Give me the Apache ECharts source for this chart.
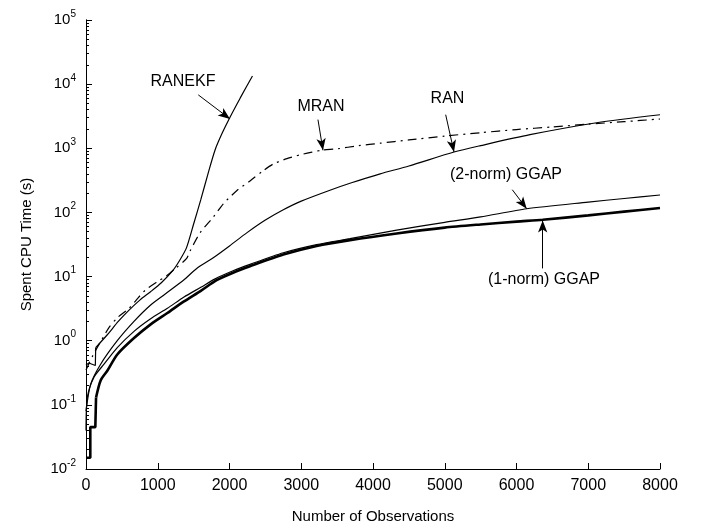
<!DOCTYPE html>
<html><head><meta charset="utf-8">
<script src="https://cdn.jsdelivr.net/npm/echarts@6/dist/echarts.min.js"></script>
<style>html,body{margin:0;padding:0;background:#fff}#c{width:701px;height:529px}</style>
</head><body><div id="c"></div>
<script>
// ---- data ----
const ranekfX = [0, 40, 130, 135, 300, 450, 600, 750, 900, 1050, 1200, 1300, 1400, 1500, 1600, 1700, 1800, 1900, 2000, 2150, 2320];
const ranekfY = [0.42, 0.45, 0.41, 0.78, 1.25, 2.0, 3.0, 4.3, 5.8, 8.0, 12, 17.5, 28, 66, 158, 400, 950, 1740, 2950, 6100, 13400];

const mranX = [0, 100, 200, 320, 440, 600, 700, 830, 1000, 1110, 1250, 1400, 1450, 1590, 1775, 1914, 2100, 2286, 2450, 2611, 2800, 2983, 3150, 3300, 3500, 3800, 4100, 4500, 5000, 5500, 6000, 6500, 7000, 7500, 8000];
const mranY = [0.35, 0.6, 0.95, 1.6, 2.3, 3.2, 4.3, 6.2, 8.4, 10, 13.5, 19, 25, 48, 85, 136, 218, 310, 430, 570, 690, 790, 870, 940, 980, 1100, 1200, 1350, 1550, 1750, 1960, 2150, 2380, 2600, 2860];

const ranX = [0, 65, 204, 436, 669, 901, 1100, 1366, 1543, 1784, 2000, 2240, 2500, 2750, 3000, 3400, 3700, 4100, 4500, 5129, 5500, 6188, 7117, 8000];
const ranY = [0.08, 0.21, 0.43, 1.0, 2.0, 3.6, 5.3, 8.9, 13.4, 20, 30, 48, 76, 110, 150, 222, 290, 400, 530, 874, 1100, 1630, 2500, 3330];

const ggap2X = [0, 18, 111, 251, 436, 669, 901, 1134, 1366, 1600, 1800, 2050, 2286, 2750, 3215, 3679, 4330, 5000, 5500, 6141, 7000, 7500, 8000];
const ggap2Y = [0.04, 0.13, 0.27, 0.43, 0.78, 1.4, 2.2, 3.2, 4.8, 6.8, 9.2, 12.3, 15.5, 23.5, 31.5, 39, 53, 70, 85, 114, 145, 165, 187];

const ggap1X = [0, 60, 60, 130, 140, 204, 297, 436, 669, 901, 1134, 1366, 1600, 1821, 2050, 2286, 2750, 3215, 3679, 4330, 5000, 5500, 6000, 6365, 7000, 7500, 8000];
const ggap1Y = [0.015, 0.015, 0.045, 0.045, 0.13, 0.24, 0.34, 0.61, 1.1, 1.8, 2.7, 4.1, 6.0, 8.8, 11.5, 14.5, 22, 30, 37, 47, 58, 65, 72, 77, 90, 103, 117];

const xTicks = [0, 1000, 2000, 3000, 4000, 5000, 6000, 7000, 8000];
const yTickExponents = [-2, -1, 0, 1, 2, 3, 4, 5];

// annotations (data coordinates)
const annTexts = ['RANEKF', 'MRAN', 'RAN', '(2-norm) GGAP', '(1-norm) GGAP'];
const annLabelPos = [[1352, 10960], [3275, 4490], [5038, 5900], [5854, 388], [6383, 8.93]];
const annArrowFrom = [[1565, 6800], [3233, 2800], [5013, 3340], [5941, 226], [6365, 13.4]];
const annArrowTo = [[2007, 2870], [3303, 929], [5129, 874], [6142, 114], [6365, 75]];

// ---- build chart ----
const FONT = 'Liberation Sans, Arial, sans-serif';
const pairs = (xs, ys, a, b) => xs.slice(a, b).map((x, i) => [x, ys.slice(a, b)[i]]);
const yDecades = yTickExponents.map(e => Math.pow(10, e));
const yMinor = [];
for (let i = 0; i < yTickExponents.length - 1; i++) {
  for (let m = 2; m <= 9; m++) yMinor.push(m * Math.pow(10, yTickExponents[i]));
}

const line = (name, data, width, type, smooth) => ({
  name, type: 'line', data, showSymbol: false, symbol: 'none',
  silent: true, animation: false, smooth: smooth ? 0.25 : false,
  lineStyle: { color: '#000', width, type: type || 'solid' },
  z: 3
});

// step parts drawn straight, the rest smoothed
const series = [
  line('RANEKF', pairs(ranekfX, ranekfY, 0, 4), 1.2, 'solid', false),
  line('RANEKF', pairs(ranekfX, ranekfY, 3), 1.2, 'solid', true),
  line('MRAN', pairs(mranX, mranY, 0), 1.2, [9, 5, 2, 5], true),
  line('RAN', pairs(ranX, ranY, 0), 1.2, 'solid', true),
  line('(2-norm) GGAP', pairs(ggap2X, ggap2Y, 0), 1.2, 'solid', true),
  line('(1-norm) GGAP', pairs(ggap1X, ggap1Y, 0, 5), 2.6, 'solid', false),
  line('(1-norm) GGAP', pairs(ggap1X, ggap1Y, 4), 2.6, 'solid', true)
];

// annotation carrier series
series.push({
  type: 'line', data: [], silent: true, animation: false, symbol: 'none',
  markLine: {
    silent: true, animation: false,
    symbol: ['none', 'arrow'], symbolSize: [7, 12],
    lineStyle: { color: '#000', width: 1, type: 'solid' },
    label: { show: false },
    emphasis: { disabled: true },
    data: annArrowFrom.map((f, i) => [{ coord: f }, { coord: annArrowTo[i] }])
  },
  markPoint: {
    silent: true, animation: false,
    symbol: 'circle', symbolSize: 1,
    itemStyle: { color: 'rgba(0,0,0,0)' },
    label: { show: true, position: 'inside', color: '#000', fontSize: 16, fontFamily: FONT, formatter: p => p.name },
    emphasis: { disabled: true },
    data: annTexts.map((t, i) => ({ name: t, coord: annLabelPos[i] }))
  }
});

const chart = echarts.init(document.getElementById('c'), null, { renderer: 'canvas' });
chart.setOption({
  animation: false,
  backgroundColor: '#fff',
  grid: { left: 86, right: 41, top: 20, bottom: 56 },
  xAxis: {
    type: 'value', min: 0, max: 8000, interval: 1000,
    axisLine: { show: true, lineStyle: { color: '#000', width: 1 } },
    axisTick: { show: true, inside: true, length: 6, lineStyle: { color: '#000' } },
    splitLine: { show: false },
    axisLabel: { color: '#000', fontSize: 16, fontFamily: FONT, margin: 9,
      customValues: xTicks, formatter: v => String(v) },
    name: 'Number of Observations', nameLocation: 'middle', nameGap: 40,
    nameTextStyle: { color: '#000', fontSize: 15, fontFamily: FONT }
  },
  yAxis: [{
    type: 'log', logBase: 10, min: 0.01, max: 100000,
    axisLine: { show: true, lineStyle: { color: '#000', width: 1 } },
    axisTick: { show: true, inside: true, length: 6, customValues: yDecades, lineStyle: { color: '#000' } },
    splitLine: { show: false },
    minorTick: { show: false },
    axisLabel: {
      color: '#000', margin: 10, customValues: yDecades,
      formatter: v => '{b|10}{s|' + Math.round(Math.log10(v)) + '}',
      rich: {
        b: { fontSize: 15, fontFamily: FONT, color: '#000', lineHeight: 22, verticalAlign: 'middle' },
        s: { fontSize: 10, fontFamily: FONT, color: '#000', lineHeight: 10, verticalAlign: 'top' }
      }
    },
    name: 'Spent CPU Time (s)', nameLocation: 'middle', nameGap: 52,
    nameTextStyle: { color: '#000', fontSize: 15, fontFamily: FONT }
  }, {
    type: 'log', logBase: 10, min: 0.01, max: 100000, position: 'left', offset: 0,
    axisLine: { show: true, lineStyle: { color: '#000', width: 1 } },
    axisTick: { show: true, inside: true, length: 3, customValues: yMinor, lineStyle: { color: '#000' } },
    axisLabel: { show: false },
    splitLine: { show: false }
  }],
  series
});
</script>
</body></html>
